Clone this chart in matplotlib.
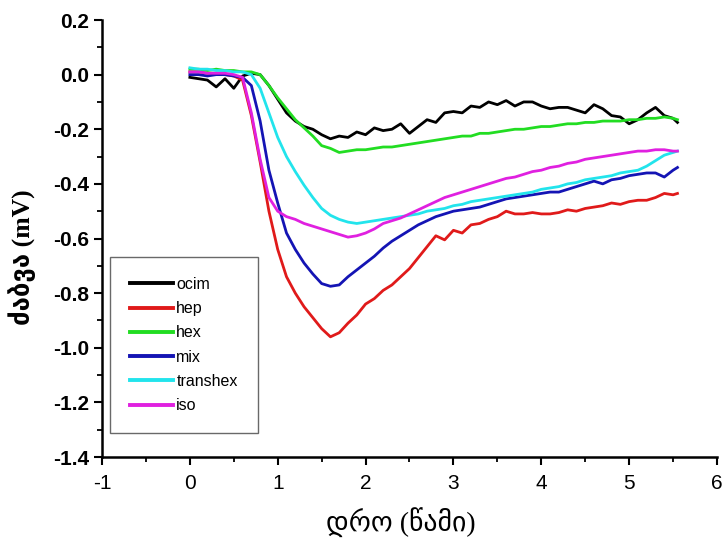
import matplotlib
matplotlib.use("Agg")
import matplotlib.pyplot as plt
from matplotlib.ticker import MultipleLocator, FormatStrFormatter

plt.rcParams['axes.unicode_minus'] = False

time_s = [0.0, 0.1, 0.2, 0.3, 0.4, 0.5, 0.6, 0.7, 0.8, 0.9,
          1.0, 1.1, 1.2, 1.3, 1.4, 1.5, 1.6, 1.7, 1.8, 1.9,
          2.0, 2.1, 2.2, 2.3, 2.4, 2.5, 2.6, 2.7, 2.8, 2.9,
          3.0, 3.1, 3.2, 3.3, 3.4, 3.5, 3.6, 3.7, 3.8, 3.9,
          4.0, 4.1, 4.2, 4.3, 4.4, 4.5, 4.6, 4.7, 4.8, 4.9,
          5.0, 5.1, 5.2, 5.3, 5.4, 5.5, 5.55]

ocim = [-0.01, -0.015, -0.02, -0.045, -0.015, -0.05, -0.005, 0.005, 0.0, -0.04,
        -0.09, -0.14, -0.17, -0.19, -0.20, -0.22, -0.235, -0.225, -0.23, -0.21,
        -0.22, -0.195, -0.205, -0.20, -0.18, -0.215, -0.19, -0.165, -0.175, -0.14,
        -0.135, -0.14, -0.115, -0.12, -0.10, -0.11, -0.095, -0.115, -0.10, -0.10,
        -0.115, -0.125, -0.12, -0.12, -0.13, -0.14, -0.11, -0.125, -0.15, -0.155,
        -0.18, -0.165, -0.14, -0.12, -0.15, -0.16, -0.175]

hep = [0.01, 0.01, 0.005, 0.005, 0.0, -0.005, -0.02, -0.15, -0.32, -0.50,
       -0.64, -0.74, -0.80, -0.85, -0.89, -0.93, -0.96, -0.945, -0.91, -0.88,
       -0.84, -0.82, -0.79, -0.77, -0.74, -0.71, -0.67, -0.63, -0.59, -0.605,
       -0.57, -0.58, -0.55, -0.545, -0.53, -0.52, -0.50, -0.51, -0.51, -0.505,
       -0.51, -0.51, -0.505, -0.495, -0.50, -0.49, -0.485, -0.48, -0.47, -0.475,
       -0.465, -0.46, -0.46, -0.45, -0.435, -0.44, -0.435]

hex_ = [0.02, 0.02, 0.015, 0.02, 0.015, 0.015, 0.01, 0.01, 0.0, -0.04,
        -0.085, -0.125, -0.165, -0.195, -0.225, -0.26, -0.27, -0.285, -0.28, -0.275,
        -0.275, -0.27, -0.265, -0.265, -0.26, -0.255, -0.25, -0.245, -0.24, -0.235,
        -0.23, -0.225, -0.225, -0.215, -0.215, -0.21, -0.205, -0.20, -0.20, -0.195,
        -0.19, -0.19, -0.185, -0.18, -0.18, -0.175, -0.175, -0.17, -0.17, -0.17,
        -0.165, -0.165, -0.16, -0.16, -0.155, -0.16, -0.165]

mix = [0.0, 0.0, -0.005, 0.0, 0.0, -0.005, -0.01, -0.04, -0.17, -0.35,
       -0.47, -0.58, -0.64, -0.69, -0.73, -0.765, -0.775, -0.77, -0.74, -0.715,
       -0.69, -0.665, -0.635, -0.61, -0.59, -0.57, -0.55, -0.535, -0.52, -0.51,
       -0.50, -0.495, -0.49, -0.485, -0.475, -0.465, -0.455, -0.45, -0.445, -0.44,
       -0.435, -0.43, -0.43, -0.42, -0.41, -0.40, -0.39, -0.40, -0.385, -0.38,
       -0.37, -0.365, -0.36, -0.36, -0.375, -0.35, -0.34]

transhex = [0.025, 0.02, 0.02, 0.015, 0.015, 0.01, 0.01, 0.0, -0.05, -0.14,
            -0.23, -0.30, -0.355, -0.405, -0.45, -0.49, -0.515, -0.53, -0.54, -0.545,
            -0.54, -0.535, -0.53, -0.525, -0.52, -0.515, -0.51, -0.50, -0.495, -0.49,
            -0.48, -0.475, -0.465, -0.46, -0.455, -0.45, -0.445, -0.44, -0.435, -0.43,
            -0.42, -0.415, -0.41, -0.40, -0.395, -0.385, -0.38, -0.375, -0.37, -0.36,
            -0.355, -0.35, -0.335, -0.315, -0.295, -0.285, -0.28]

iso = [0.01, 0.01, 0.005, 0.005, 0.005, 0.0, -0.01, -0.14, -0.31, -0.45,
       -0.50, -0.52, -0.53, -0.545, -0.555, -0.565, -0.575, -0.585, -0.595, -0.59,
       -0.58, -0.565, -0.545, -0.535, -0.525, -0.51, -0.495, -0.48, -0.465, -0.45,
       -0.44, -0.43, -0.42, -0.41, -0.40, -0.39, -0.38, -0.375, -0.365, -0.355,
       -0.35, -0.34, -0.335, -0.325, -0.32, -0.31, -0.305, -0.30, -0.295, -0.29,
       -0.285, -0.28, -0.28, -0.275, -0.275, -0.28, -0.28]

series_names = ["ocim", "hep", "hex", "mix", "transhex", "iso"]
series_values = [ocim, hep, hex_, mix, transhex, iso]
series_colors = ["#000000", "#e01a1a", "#22dd22", "#1414b4", "#22e4ec", "#e020e0"]

W, H = 727, 548
fig = plt.figure(figsize=(W / 100, H / 100), dpi=100)
ax = fig.add_axes([102 / W, 1 - 457 / H, (717 - 102) / W, (457 - 20) / H])

for name, vals, col in zip(series_names, series_values, series_colors):
    ax.plot(time_s, vals, color=col, lw=2.0, label=name, solid_joinstyle='round')

ax.set_xlim(-1, 6)
ax.set_ylim(-1.4, 0.2)
ax.xaxis.set_major_locator(MultipleLocator(1))
ax.xaxis.set_minor_locator(MultipleLocator(0.5))
ax.yaxis.set_major_locator(MultipleLocator(0.2))
ax.yaxis.set_minor_locator(MultipleLocator(0.1))
ax.yaxis.set_major_formatter(FormatStrFormatter('%.1f'))

for s in ['top', 'right']:
    ax.spines[s].set_visible(False)
for s in ['left', 'bottom']:
    ax.spines[s].set_linewidth(1.8)

ax.tick_params(which='major', direction='out', length=6, width=1.5)
ax.tick_params(which='minor', direction='out', length=3.5, width=1.3)
ax.tick_params(axis='x', which='major', pad=6)
for lbl in ax.get_yticklabels():
    lbl.set_fontfamily('Liberation Sans')
    lbl.set_fontweight('bold')
    lbl.set_fontsize(15)
for lbl in ax.get_xticklabels():
    lbl.set_fontfamily('Liberation Sans')
    lbl.set_fontsize(15)

fig.text(22 / W, 1 - 257 / H, "ძაბვა (mV)", rotation=90, ha='center', va='center',
         fontsize=18.5, fontweight='bold', family=['Liberation Serif', 'DejaVu Sans'])
fig.text(401 / W, 1 - 523 / H, "დრო (წამი)", ha='center', va='center',
         fontsize=20, family=['Liberation Serif', 'DejaVu Sans'])

leg = ax.legend(loc='upper left', bbox_to_anchor=(110 / W, 1 - 257 / H),
                bbox_transform=fig.transFigure, frameon=True, fancybox=False,
                edgecolor='#444444', prop={'family': 'Liberation Sans', 'size': 11.5},
                handlelength=2.7, handletextpad=0.2, labelspacing=0.58,
                borderpad=1.25, borderaxespad=0)
leg.get_frame().set_linewidth(1.0)
for l in leg.get_lines():
    l.set_linewidth(2.8)

fig.savefig("out.png", dpi=100)
